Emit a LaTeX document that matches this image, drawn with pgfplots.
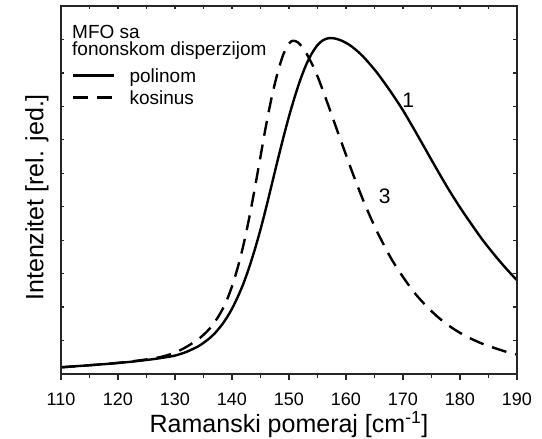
\documentclass[border=0pt]{standalone}
\usepackage{fontspec}
\setmainfont{Liberation Sans}
\usepackage{pgfplots}
\pgfplotsset{compat=1.18}
\begin{document}
\begin{tikzpicture}
\useasboundingbox (-61pt,-65pt) rectangle (481pt,374pt);
\pgfplotsset{
  common/.style={
    width=456pt, height=368pt, scale only axis,
    xmin=110, xmax=190, ymin=0, ymax=11,
    axis line style={line width=1.5pt, black!85},
    every tick/.style={line width=1.2pt, black!85},
  }
}
\begin{axis}[common,
  tick align=outside,
  xtick pos=bottom,
  xtick={110,120,...,190},
  minor x tick num=1,
  major tick length=6pt, minor tick length=4pt,
  ytick=\empty,
  /pgf/number format/assume math mode=true,
  ticklabel style={font=\fontsize{18}{21}\selectfont},
  xticklabel style={yshift=-9pt},
  xlabel={Ramanski pomeraj [cm\textsuperscript{-1}]},
  xlabel style={font=\fontsize{25}{30}\selectfont, at={(axis description cs:0.5,-0.160)}, anchor=base},
  ylabel={Intenzitet [rel. jed.]},
  ylabel style={font=\fontsize{25}{30}\selectfont, at={(axis description cs:-0.0384,0.48)}, anchor=base},
  legend style={at={(axis description cs:0.0241,0.837)}, anchor=north west, draw=none, fill=none,
    inner sep=0pt, font=\fontsize{19}{22}\selectfont,
    nodes={inner sep=0pt, text height=16pt, text depth=3pt},
    row sep=3pt, column sep=14pt},
  legend cell align=left,
  legend image code/.code={\draw[#1] (0pt,0pt) -- (41pt,0pt);},
]
\addplot[black, line width=2.4pt, smooth, tension=0.5] coordinates {
(110,0.20) (114,0.25) (118,0.30) (122,0.36) (126,0.44) (128,0.49) (130,0.55) (132,0.66)
(134,0.82) (135,0.93) (136,1.06) (137,1.22) (138,1.42) (139,1.66) (140,1.95) (141,2.3)
(142,2.7) (143,3.18) (144,3.72) (145,4.32) (146,4.98) (147,5.68) (148,6.38) (149,7.06)
(150,7.7) (151,8.28) (152,8.8) (153,9.24) (154,9.58) (155,9.83) (156,9.98) (157,10.04)
(158,10.03) (159,9.98) (160,9.9) (161,9.79) (162,9.65) (163,9.49) (164,9.3) (165,9.1)
(166,8.88) (168,8.4) (170,7.88) (172,7.3) (174,6.7) (176,6.1) (178,5.52) (180,4.98)
(182,4.48) (184,4.0) (186,3.57) (188,3.17) (190,2.8)};
\addlegendentry{polinom}
\addplot[black, line width=2.4pt, dash pattern=on 15pt off 9pt, smooth, tension=0.5] coordinates {
(110,0.20) (114,0.25) (118,0.30) (122,0.37) (126,0.46) (128,0.53) (130,0.64) (132,0.81)
(134,1.03) (135,1.17) (136,1.34) (137,1.56) (138,1.83) (139,2.17) (140,2.62) (141,3.18)
(142,3.85) (143,4.65) (144,5.55) (145,6.5) (146,7.45) (147,8.3) (148,9.0) (149,9.55)
(150,9.88) (150.7,9.96) (151.5,9.92) (152.3,9.78) (153,9.6) (154,9.28) (155,8.9)
(156,8.45) (157,7.98) (158,7.5) (159,7.02) (160,6.55) (161,6.08) (162,5.63) (163,5.2)
(164,4.8) (165,4.42) (166,4.07) (168,3.43) (170,2.9) (172,2.43) (174,2.05) (176,1.72)
(178,1.45) (180,1.23) (182,1.05) (184,0.9) (186,0.78) (188,0.67) (190,0.58)};
\addlegendentry{kosinus}
\node[font=\fontsize{21}{24}\selectfont] at (axis cs:170.9,8.19) {1};
\node[font=\fontsize{21}{24}\selectfont] at (axis cs:166.8,5.3) {3};
\node[font=\fontsize{19}{17}\selectfont, anchor=north west, inner sep=0pt, align=left] at (axis description cs:0.0241,0.948) {MFO sa\\fononskom disperzijom};
\node[font=\fontsize{25}{30}\selectfont, anchor=base west, inner sep=0pt] at (axis description cs:-0.1162,0.9293) {(b)};
\end{axis}
\begin{axis}[common,
  tick align=inside,
  xtick pos=top,
  xtick={110,120,...,190},
  minor x tick num=1,
  xticklabels={},
  ytick={1,2,...,10},
  yticklabels={},
  ytick pos=both,
  major tick length=3.5pt, minor tick length=3pt,
]
\end{axis}
\end{tikzpicture}
\end{document}
